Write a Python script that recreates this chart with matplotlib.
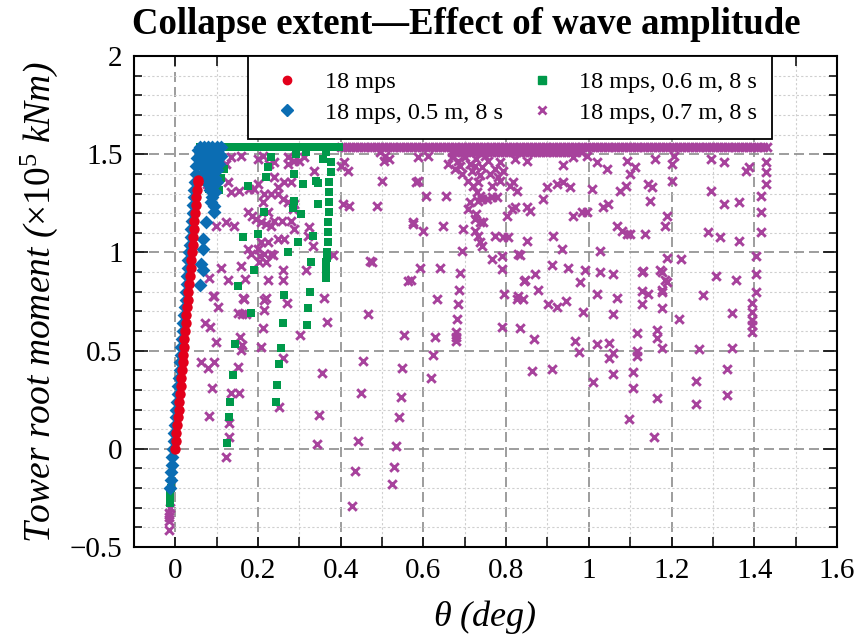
import matplotlib
matplotlib.use("Agg")
import matplotlib.pyplot as plt
from matplotlib.ticker import MultipleLocator, FuncFormatter
from matplotlib.lines import Line2D

plt.rcParams["font.family"] = ["Liberation Serif", "DejaVu Serif"]
plt.rcParams["mathtext.fontset"] = "custom"
plt.rcParams["mathtext.rm"] = "Liberation Serif"
plt.rcParams["mathtext.it"] = "Liberation Serif:italic"

C_RED = "#e3001b"
C_BLUE = "#0b6db3"
C_GREEN = "#00994a"
C_MAG = "#a7429c"

LABELS = ["18 mps", "18 mps, 0.5 m, 8 s", "18 mps, 0.6 m, 8 s", "18 mps, 0.7 m, 8 s"]

# ---- 18 mps (no waves): linear loading branch ----
red_x = [0.000, 0.002, 0.003, 0.005, 0.006, 0.008, 0.010, 0.011, 0.013, 0.014,
         0.016, 0.018, 0.019, 0.021, 0.022, 0.024, 0.026, 0.027, 0.029, 0.030,
         0.032, 0.034, 0.035, 0.037, 0.038, 0.040, 0.042, 0.043, 0.045, 0.046,
         0.048, 0.050, 0.051, 0.053, 0.054, 0.055]
red_y = [0.00, 0.04, 0.08, 0.12, 0.16, 0.20, 0.24, 0.28, 0.32, 0.36,
         0.40, 0.44, 0.48, 0.52, 0.56, 0.60, 0.64, 0.68, 0.72, 0.76,
         0.80, 0.84, 0.88, 0.92, 0.96, 1.00, 1.04, 1.08, 1.12, 1.16,
         1.20, 1.24, 1.28, 1.32, 1.36, 1.37]

# ---- 0.5 m waves ----
blue_line_x = [-0.013, -0.011, -0.010, -0.008, -0.007, -0.005, -0.003, -0.002, 0.000, 0.001,
               0.003, 0.004, 0.006, 0.007, 0.009, 0.011, 0.012, 0.014, 0.015, 0.017,
               0.018, 0.020, 0.022, 0.023, 0.025, 0.026, 0.028, 0.029, 0.031, 0.032,
               0.034, 0.036, 0.037, 0.039, 0.040, 0.042, 0.043, 0.045, 0.046, 0.048,
               0.050, 0.051, 0.053, 0.054]
blue_line_y = [-0.20, -0.16, -0.12, -0.08, -0.04, 0.00, 0.04, 0.08, 0.12, 0.16,
               0.20, 0.24, 0.28, 0.32, 0.36, 0.40, 0.44, 0.48, 0.52, 0.56,
               0.60, 0.64, 0.68, 0.72, 0.76, 0.80, 0.84, 0.88, 0.92, 0.96,
               1.00, 1.04, 1.08, 1.12, 1.16, 1.20, 1.24, 1.28, 1.32, 1.36,
               1.40, 1.44, 1.48, 1.52]
blue_cloud_x = [0.060, 0.070, 0.080, 0.090, 0.100, 0.110, 0.065, 0.075, 0.085, 0.095,
                0.105, 0.060, 0.070, 0.080, 0.090, 0.100, 0.110, 0.065, 0.075, 0.085,
                0.095, 0.105, 0.070, 0.080, 0.090, 0.100, 0.075, 0.085, 0.095, 0.080,
                0.090, 0.100, 0.085, 0.095, 0.090, 0.094, 0.087, 0.094, 0.075, 0.067,
                0.067, 0.063, 0.067, 0.060]
blue_cloud_y = [1.535, 1.535, 1.535, 1.535, 1.535, 1.535, 1.50, 1.50, 1.50, 1.50,
                1.50, 1.47, 1.47, 1.47, 1.47, 1.47, 1.49, 1.44, 1.44, 1.44,
                1.44, 1.45, 1.41, 1.41, 1.41, 1.42, 1.38, 1.38, 1.38, 1.35,
                1.35, 1.36, 1.32, 1.31, 1.28, 1.235, 1.255, 1.204, 1.153, 1.066,
                1.015, 0.939, 0.913, 0.832]

# ---- 0.6 m waves ----
green_top_x = [0.060, 0.068, 0.076, 0.084, 0.092, 0.100, 0.108, 0.116, 0.124, 0.132,
               0.140, 0.148, 0.156, 0.164, 0.172, 0.180, 0.188, 0.196, 0.204, 0.212,
               0.220, 0.228, 0.236, 0.244, 0.252, 0.260, 0.268, 0.276, 0.284, 0.292,
               0.300, 0.308, 0.316, 0.324, 0.332, 0.340, 0.348, 0.356, 0.364, 0.372,
               0.380, 0.388, 0.396]
green_top_y = 1.535
green_x = [0.231, 0.292, 0.316, 0.357, 0.364, 0.376, 0.376, 0.373, 0.373, 0.371,
           0.371, 0.369, 0.369, 0.369, 0.366, 0.366, 0.364, 0.364, 0.364, 0.364,
           0.340, 0.345, 0.333, 0.328, 0.325, 0.320, 0.318, 0.304, 0.287, 0.308,
           0.287, 0.284, 0.296, 0.345, 0.219, 0.224, 0.214, 0.176, 0.200, 0.164,
           0.190, 0.152, 0.118, 0.272, 0.263, 0.260, 0.255, 0.251, 0.246, 0.243,
           0.183, 0.145, 0.140, 0.133, 0.130, 0.125, 0.080, 0.082, 0.080, 0.082,
           0.101, 0.110, 0.106, -0.013, -0.012, -0.012, -0.011]
green_y = [1.485, 1.500, 1.510, 1.474, 1.510, 1.459, 1.408, 1.357, 1.306, 1.255,
           1.204, 1.153, 1.102, 1.051, 1.000, 0.974, 0.949, 0.923, 0.898, 0.872,
           1.362, 1.245, 1.082, 0.949, 0.801, 0.719, 0.628, 1.194, 1.260, 1.347,
           1.398, 1.224, 1.051, 1.352, 1.383, 1.434, 1.204, 1.337, 1.092, 1.077,
           0.913, 0.827, 1.423, 1.000, 0.781, 0.643, 0.515, 0.434, 0.327, 0.240,
           0.694, 0.536, 0.378, 0.240, 0.163, 0.031, 1.459, 1.413, 1.362, 1.321,
           1.440, 1.380, 1.320, -0.276, -0.250, -0.224, -0.200]

# ---- 0.7 m waves ----
mag_top_x = [0.40, 0.41, 0.42, 0.43, 0.44, 0.45, 0.46, 0.47, 0.48, 0.49,
             0.50, 0.51, 0.52, 0.53, 0.54, 0.55, 0.56, 0.57, 0.58, 0.59,
             0.60, 0.61, 0.62, 0.63, 0.64, 0.65, 0.66, 0.67, 0.68, 0.69,
             0.70, 0.71, 0.72, 0.73, 0.74, 0.75, 0.76, 0.77, 0.78, 0.79,
             0.80, 0.81, 0.82, 0.83, 0.84, 0.85, 0.86, 0.87, 0.88, 0.89,
             0.90, 0.91, 0.92, 0.93, 0.94, 0.95, 0.96, 0.97, 0.98, 0.99,
             1.00, 1.01, 1.02, 1.03, 1.04, 1.05, 1.06, 1.07, 1.08, 1.09,
             1.10, 1.11, 1.12, 1.13, 1.14, 1.15, 1.16, 1.17, 1.18, 1.19,
             1.20, 1.21, 1.22, 1.23, 1.24, 1.25, 1.26, 1.27, 1.28, 1.29,
             1.30, 1.31, 1.32, 1.33, 1.34, 1.35, 1.36, 1.37, 1.38, 1.39,
             1.40, 1.41, 1.42, 1.43]
mag_top_y = 1.535
mag_band_x = [0.67, 0.68, 0.69, 0.70, 0.71, 0.72, 0.73, 0.74, 0.75, 0.76,
              0.77, 0.78, 0.79, 0.80, 0.81, 0.82, 0.83, 0.84, 0.85, 0.86,
              0.87, 0.88, 0.89, 0.90, 0.91, 0.92, 0.93, 0.94, 0.95, 0.96,
              0.97, 0.98]
mag_band_y = 1.512
mag_x = [
    0.670, 0.684, 0.701, 0.713, 0.728, 0.742, 0.757, 0.773, 0.786, 0.677,
    0.694, 0.718, 0.737, 0.761, 0.781, 0.660, 0.793, 0.749, 0.689, 0.725,
    0.708, 0.733, 0.720, 0.730, 0.737, 0.713, 0.733, 0.742, 0.754, 0.766,
    0.778, 0.708, 0.728, 0.725, 0.737, 0.744, 0.725, 0.733, 0.737, 0.742,
    0.766, 0.786, 0.802, 0.814, 0.822, 0.810, 0.817, 0.826, 0.793, 0.773,
    0.805, 0.790, 0.829,
    0.851, 0.858, 0.851, 0.870, 0.846, 0.877, 0.829,
    0.889, 0.899, 0.923, 0.937, 0.954, 0.913, 0.935, 0.911, 0.949, 0.990,
    0.978, 0.961, 0.983, 0.995, 1.007, 1.027, 1.027, 1.058, 1.019, 1.067,
    1.034, 1.046, 1.067, 1.080, 1.092, 1.099, 1.075, 1.089, 1.142, 1.152,
    1.147, 1.200, 1.183, 1.190, 1.135, 1.188, 1.224, 1.171, 1.183, 1.130,
    1.176, 1.142,
    1.296, 1.328, 1.364, 1.287, 1.316, 1.364, 1.308, 1.357, 1.277,
    1.429, 1.429, 1.429, 1.417, 1.417, 1.417, 1.405, 1.405, 1.405, 1.395,
    1.395, 1.395, 1.395, 1.395,
    0.822, 0.851, 0.937, 0.961, 0.995, 1.019, 1.043, 1.092, 1.099, 1.111,
    1.159, 1.200, 1.207, 1.296, 1.328, 1.381, 1.388, 0.588, 0.612,
    0.581, 0.607, 0.655, 0.576, 0.600, 0.648, 0.696, 0.694, 0.593, 0.641,
    0.689, 0.687, 0.684, 0.682, 0.680, 0.680, 0.680, 0.634, 0.629, 0.624,
    0.619, 0.564, 0.552, 0.549, 0.545, 0.540,
    0.766, 0.790, 0.795, 0.790, 0.834, 0.826, 0.841, 0.834, 0.843, 0.867,
    0.863, 0.901, 0.923, 0.945, 0.911, 0.986, 0.966, 0.976, 1.058, 1.019,
    1.048, 1.058, 1.048, 1.010, 1.058, 1.106, 1.108, 1.096, 1.116, 1.116,
    1.116, 1.128, 1.128, 1.128, 1.178, 1.188, 1.178, 1.178, 1.166, 1.166,
    1.178, 1.166, 1.157, 1.217, 1.267, 1.258, 1.258, 1.347, 1.347, 1.335,
    1.335,
    -0.014, -0.014, -0.014, -0.014, -0.013,
    0.072, 0.084, 0.104, 0.092, 0.082, 0.063, 0.080, 0.094, 0.089, 0.082,
    0.099, 0.111, 0.128, 0.159, 0.169, 0.166, 0.152, 0.161, 0.171, 0.157,
    0.161, 0.159, 0.152, 0.135, 0.154, 0.130, 0.130, 0.123, 0.176, 0.183,
    0.205, 0.202, 0.224, 0.214, 0.214, 0.212, 0.207, 0.260, 0.260, 0.270,
    0.260, 0.251, 0.236, 0.316, 0.301, 0.381, 0.366, 0.354, 0.347, 0.342,
    0.477, 0.465, 0.455, 0.448, 0.441, 0.434, 0.427, 0.533, 0.528, 0.525,
    0.123, 0.135, 0.159, 0.200, 0.212, 0.227, 0.239, 0.272, 0.287, 0.311,
    0.239, 0.263, 0.248, 0.128, 0.135, 0.154, 0.178, 0.190, 0.200, 0.214,
    0.231, 0.248, 0.260, 0.272, 0.287, 0.284, 0.212, 0.224, 0.176, 0.186,
    0.195, 0.123, 0.099, 0.142, 0.207, 0.219, 0.231, 0.239, 0.258, 0.280,
    0.287, 0.200, 0.207, 0.224, 0.248, 0.263, 0.214, 0.231, 0.219, 0.320,
    0.333, 0.335, 0.400, 0.417, 0.407, 0.405, 0.419, 0.489, 0.501, 0.586,
    0.496, 0.508, 0.516, 0.504, 0.576, 0.472, 0.569, 0.359, 0.094, 0.164,
    0.219, 0.272, 0.299, 0.280, 0.323, 0.082, 0.087, 0.094, 0.077, 0.092,
]
mag_y = [
    1.485, 1.464, 1.485, 1.449, 1.474, 1.434, 1.464, 1.423, 1.459, 1.423,
    1.398, 1.413, 1.393, 1.398, 1.383, 1.449, 1.413, 1.490, 1.439, 1.440,
    1.362, 1.357, 1.337, 1.306, 1.286, 1.255, 1.260, 1.270, 1.270, 1.281,
    1.281, 1.219, 1.194, 1.168, 1.153, 1.153, 1.107, 1.082, 1.051, 1.031,
    1.337, 1.362, 1.184, 1.219, 1.230, 1.337, 1.357, 1.311, 1.077, 1.082,
    1.077, 0.980, 0.990,
    1.230, 1.209, 1.056, 0.888, 0.862, 0.811, 0.776,
    1.270, 1.332, 1.347, 1.357, 1.332, 1.082, 1.015, 0.934, 0.923, 0.913,
    0.847, 1.184, 1.204, 1.204, 1.321, 1.005, 0.898, 0.888, 0.786, 0.770,
    1.230, 1.245, 1.133, 1.107, 1.092, 1.092, 1.311, 1.337, 1.347, 1.332,
    1.260, 1.362, 1.133, 1.184, 1.092, 0.974, 0.969, 0.913, 0.862, 0.903,
    0.811, 0.786,
    1.311, 1.245, 1.255, 1.102, 1.077, 1.056, 0.878, 0.862, 0.781,
    1.459, 1.408, 1.347, 1.286, 1.204, 1.102, 0.980, 0.888, 0.796, 0.745,
    0.699, 0.658, 0.628, 0.597,
    1.474, 1.464, 1.444, 1.485, 1.490, 1.459, 1.423, 1.464, 1.398, 1.434,
    1.474, 1.449, 1.490, 1.474, 1.459, 1.413, 1.434, 1.485, 1.490,
    1.357, 1.286, 1.286, 1.143, 1.107, 1.133, 1.117, 1.005, 0.923, 0.923,
    0.893, 0.811, 0.735, 0.663, 0.597, 0.571, 0.551, 0.765, 0.571, 0.480,
    0.362, 0.852, 0.582, 0.413, 0.265, 0.163,
    0.969, 0.918, 0.786, 0.622, 0.985, 0.765, 0.765, 0.617, 0.857, 0.561,
    0.398, 0.735, 0.724, 0.755, 0.408, 0.699, 0.551, 0.495, 0.689, 0.536,
    0.541, 0.490, 0.464, 0.342, 0.383, 0.393, 0.311, 0.153, 0.592, 0.500,
    0.474, 0.898, 0.806, 0.735, 0.898, 0.847, 0.801, 0.719, 0.607, 0.566,
    0.515, 0.260, 0.061, 0.663, 0.510, 0.347, 0.230, 0.694, 0.515, 0.408,
    0.276,
    -0.327, -0.347, -0.367, -0.413, -0.300,
    0.643, 0.622, 0.724, 0.776, 0.872, 0.444, 0.413, 0.444, 0.311, 0.168,
    0.546, 0.923, 0.862, 0.929, 0.867, 0.765, 0.694, 0.684, 0.684, 0.571,
    0.531, 0.505, 0.418, 0.286, 0.286, 0.133, 0.061, -0.041, 1.015, 0.990,
    0.980, 0.949, 0.862, 0.760, 0.709, 0.617, 0.520, 0.913, 0.862, 0.740,
    0.464, 0.214, 0.985, 0.913, 0.577, 0.985, 0.648, 0.388, 0.173, 0.026,
    0.949, 0.684, 0.449, 0.286, 0.041, -0.112, -0.291, 0.015, -0.092, -0.179,
    1.449, 1.485, 1.490, 1.474, 1.490, 1.449, 1.459, 1.449, 1.464, 1.485,
    1.383, 1.357, 1.332, 1.357, 1.306, 1.311, 1.321, 1.321, 1.347, 1.296,
    1.296, 1.296, 1.270, 1.255, 1.245, 1.219, 1.255, 1.204, 1.204, 1.184,
    1.168, 1.153, 1.133, 1.133, 1.153, 1.143, 1.133, 1.158, 1.158, 1.158,
    1.117, 1.015, 1.051, 1.051, 1.066, 1.066, 0.990, 0.990, 0.949, 1.082,
    1.031, 1.413, 1.439, 1.413, 1.459, 1.245, 1.235, 1.235, 1.362, 1.362,
    1.510, 1.490, 1.474, 1.464, 1.153, 0.954, 0.862, 0.770, 0.776, 0.770,
    0.770, 1.485, 1.464, 1.357, 1.128, 1.459, 1.423, 1.398, 1.347, 1.306,
]


def fmt_tick(v, _pos):
    return f"{v:g}".replace("-", "\u2212")


fig = plt.figure(figsize=(8.58, 6.44), dpi=100)
ax = fig.add_axes([0.156, 0.1506, 0.8195, 0.7624])

# 0.7 m drawn first, 18 mps last (on top)
ax.scatter(mag_top_x, [mag_top_y] * len(mag_top_x), marker="x", s=38,
           linewidths=2.1, color=C_MAG, zorder=2)
ax.scatter(mag_band_x, [mag_band_y] * len(mag_band_x), marker="x", s=38,
           linewidths=2.1, color=C_MAG, zorder=2)
ax.scatter(mag_x, mag_y, marker="x", s=38, linewidths=2.1, color=C_MAG, zorder=2)

ax.scatter(green_top_x, [green_top_y] * len(green_top_x), marker="s", s=32,
           color=C_GREEN, linewidths=0, zorder=3)
ax.scatter(green_x, green_y, marker="s", s=32, color=C_GREEN, linewidths=0, zorder=3)

ax.scatter(blue_line_x, blue_line_y, marker="D", s=50, color=C_BLUE, linewidths=0, zorder=4)
ax.scatter(blue_cloud_x, blue_cloud_y, marker="D", s=50, color=C_BLUE, linewidths=0, zorder=4)

ax.scatter(red_x, red_y, marker="o", s=56, color=C_RED, linewidths=0, zorder=5)

ax.set_xlim(-0.1, 1.6)
ax.set_ylim(-0.5, 2.0)

ax.xaxis.set_major_locator(MultipleLocator(0.2))
ax.xaxis.set_minor_locator(MultipleLocator(0.1))
ax.yaxis.set_major_locator(MultipleLocator(0.5))
ax.yaxis.set_minor_locator(MultipleLocator(0.1))
ax.xaxis.set_major_formatter(FuncFormatter(fmt_tick))
ax.yaxis.set_major_formatter(FuncFormatter(fmt_tick))

ax.tick_params(which="both", direction="in", top=True, right=True,
               labelsize=21, width=1.1, pad=8)
ax.tick_params(axis="x", which="both", length=7)
ax.tick_params(axis="y", which="major", length=10)
ax.tick_params(axis="y", which="minor", length=6)

ax.set_axisbelow(True)
ax.grid(which="major", color="#8c8c8c", linestyle=(0, (6, 3)), linewidth=1.2)
ax.grid(which="minor", color="#cfcfcf", linestyle=(0, (2, 2)), linewidth=0.8)
for sp in ax.spines.values():
    sp.set_linewidth(1.5)

ax.set_xlabel(r"$\theta$ (deg)", fontsize=26, style="italic", labelpad=10)
ax.set_ylabel(r"Tower root moment ($\times\mathit{10}^{\mathit{5}}$ kNm)",
              fontsize=27, style="italic", labelpad=7)
fig.text(0.543, 0.962, "Collapse extent\u2014Effect of wave amplitude",
         ha="center", va="center", fontsize=26.5, fontweight="bold")

handles = [
    Line2D([], [], linestyle="none", marker="o", markersize=6, color=C_RED),
    Line2D([], [], linestyle="none", marker="D", markersize=6, color=C_BLUE),
    Line2D([], [], linestyle="none", marker="s", markersize=6, color=C_GREEN),
    Line2D([], [], linestyle="none", marker="x", markersize=6, markeredgewidth=2,
           color=C_MAG),
]
leg = ax.legend(handles, LABELS, ncol=2, loc="upper left",
                bbox_to_anchor=(0.162, 1.0), borderaxespad=0,
                fontsize=17.5, frameon=True, fancybox=False,
                edgecolor="black", framealpha=1, handlelength=2.0,
                handletextpad=0.55, labelspacing=0.35, borderpad=0.62,
                columnspacing=0.6)
leg.get_frame().set_linewidth(1.3)
leg.set_zorder(10)

fig.savefig("out.png", dpi=100)
